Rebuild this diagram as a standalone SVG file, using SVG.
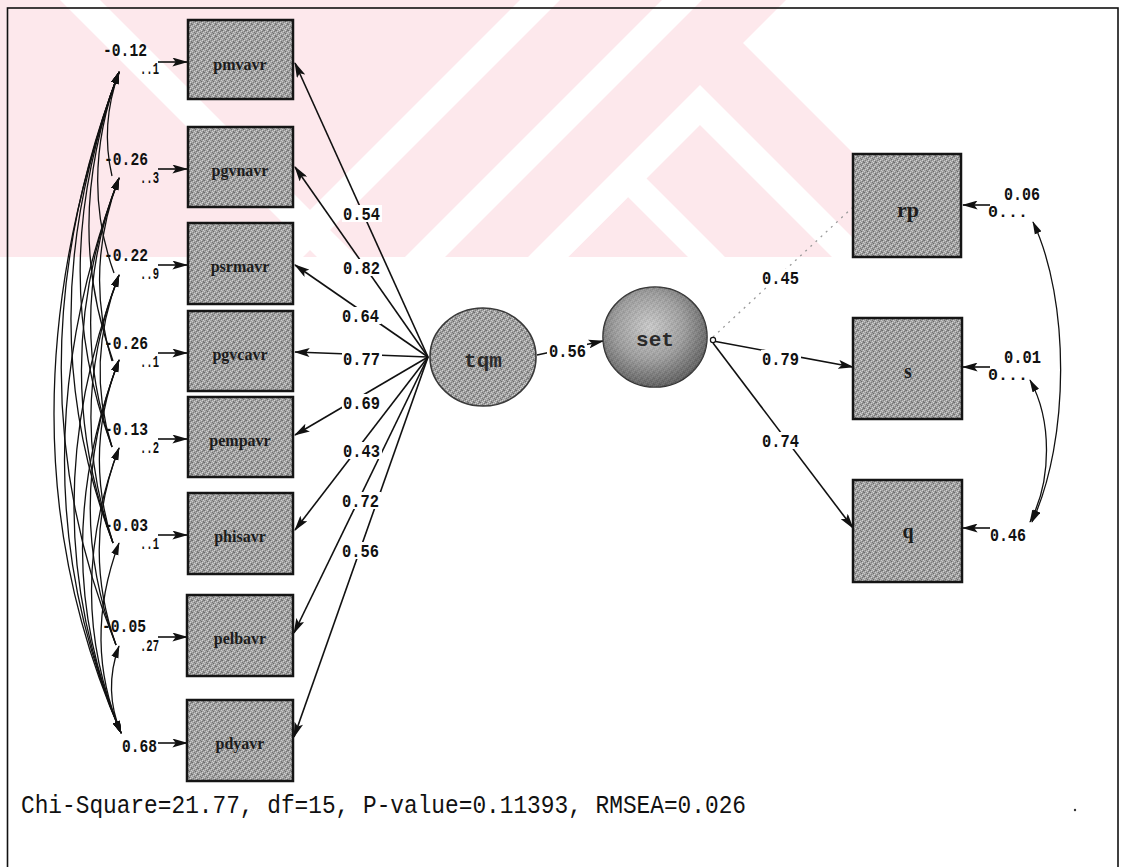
<svg xmlns="http://www.w3.org/2000/svg" width="1121" height="867" viewBox="0 0 1121 867">
<defs>
<pattern id="dith" width="6" height="6" patternUnits="userSpaceOnUse">
<rect width="6" height="6" fill="#a2a2a2"/>
<rect x="0" y="0" width="1" height="1" fill="#6e6e6e"/>
<rect x="3" y="0" width="1" height="1" fill="#d4d4d4"/>
<rect x="5" y="0" width="1" height="1" fill="#7c7c7c"/>
<rect x="1" y="1" width="1" height="1" fill="#d0d0d0"/>
<rect x="4" y="1" width="1" height="1" fill="#747474"/>
<rect x="2" y="2" width="1" height="1" fill="#767676"/>
<rect x="5" y="2" width="1" height="1" fill="#cccccc"/>
<rect x="0" y="3" width="1" height="1" fill="#c8c8c8"/>
<rect x="3" y="3" width="1" height="1" fill="#6a6a6a"/>
<rect x="1" y="4" width="1" height="1" fill="#7e7e7e"/>
<rect x="4" y="4" width="1" height="1" fill="#d6d6d6"/>
<rect x="2" y="5" width="1" height="1" fill="#cfcfcf"/>
<rect x="5" y="5" width="1" height="1" fill="#727272"/>
</pattern>
<radialGradient id="setg" cx="0.45" cy="0.4" r="0.6">
<stop offset="0" stop-color="#d4d4d4"/>
<stop offset="0.55" stop-color="#9c9c9c"/>
<stop offset="1" stop-color="#505050"/>
</radialGradient>
<marker id="ah" viewBox="0 0 14 8" refX="13" refY="4" markerWidth="16" markerHeight="9" markerUnits="userSpaceOnUse" orient="auto-start-reverse">
<path d="M0,0 L14,4 L0,8 L3,4 z" fill="#111"/>
</marker>
<marker id="ahs" viewBox="0 0 14 8" refX="13" refY="4" markerWidth="13" markerHeight="8" markerUnits="userSpaceOnUse" orient="auto-start-reverse">
<path d="M0,0 L14,4 L0,8 z" fill="#111"/>
</marker>
<style>
.box{fill:url(#dith);stroke:#151515;stroke-width:2.5}
.nl{font-family:"Liberation Serif",serif;font-weight:bold;font-size:16px;fill:#1c1c1c;text-anchor:middle}
.lab{font-family:"Liberation Mono",monospace;font-weight:bold;font-size:19px;fill:#111}
.sm{font-family:"Liberation Mono",monospace;font-weight:bold;font-size:16px;fill:#111}
.bg{fill:#fff}
.ln{fill:none;stroke:#111;stroke-width:1.6}
.cv{fill:none;stroke:#111;stroke-width:1.3}
.wm{fill:#fde8ec}
.wmw{fill:#fff}
</style>
</defs>
<rect width="1121" height="867" fill="#fff"/>
<g id="watermark">
<polygon class="wm" points="0,0 786,0 743,43 957,257 0,257"/>
<polygon class="wmw" points="700,85 872,257 832,257 700,125 568,257 528,257"/>
<polygon class="wmw" points="628,160 725,257 688,257 628,197 568,257 531,257"/>
<polygon class="wmw" points="520,0 560,0 303,257 263,257"/>
<polygon class="wmw" points="662,0 702,0 445,257 405,257"/>
<polygon class="wmw" points="60,0 100,0 357,257 317,257"/>
</g>
<rect x="7.5" y="8" width="1110.5" height="866" fill="none" stroke="#111" stroke-width="1.6"/>

<g id="connectors">
<line class="ln" x1="428" y1="357" x2="295" y2="63" marker-end="url(#ah)"/>
<line class="ln" x1="428" y1="357" x2="295" y2="167" marker-end="url(#ah)"/>
<line class="ln" x1="428" y1="357" x2="295" y2="265" marker-end="url(#ah)"/>
<line class="ln" x1="428" y1="357" x2="295" y2="352" marker-end="url(#ah)"/>
<line class="ln" x1="428" y1="357" x2="295" y2="435" marker-end="url(#ah)"/>
<line class="ln" x1="428" y1="357" x2="295" y2="530" marker-end="url(#ah)"/>
<line class="ln" x1="428" y1="357" x2="294" y2="633" marker-end="url(#ah)"/>
<line class="ln" x1="428" y1="357" x2="294" y2="737" marker-end="url(#ah)"/>
<line class="ln" x1="537" y1="355" x2="603" y2="341" marker-end="url(#ah)"/>
<line x1="713" y1="337" x2="852" y2="208" stroke="#9a9a9a" stroke-width="1.3" stroke-dasharray="2,5"/>
<line class="ln" x1="713" y1="341" x2="853" y2="367" marker-end="url(#ah)"/>
<line class="ln" x1="713" y1="343" x2="853" y2="528" marker-end="url(#ah)"/>
<circle cx="713" cy="340" r="2.6" fill="#fff" stroke="#111" stroke-width="1.2"/>
<line class="ln" x1="158" y1="62" x2="187" y2="62" marker-end="url(#ah)"/>
<line class="ln" x1="158" y1="169" x2="187" y2="169" marker-end="url(#ah)"/>
<line class="ln" x1="158" y1="265" x2="187" y2="265" marker-end="url(#ah)"/>
<line class="ln" x1="158" y1="353" x2="187" y2="353" marker-end="url(#ah)"/>
<line class="ln" x1="158" y1="439" x2="187" y2="439" marker-end="url(#ah)"/>
<line class="ln" x1="158" y1="535" x2="187" y2="535" marker-end="url(#ah)"/>
<line class="ln" x1="158" y1="637" x2="187" y2="637" marker-end="url(#ah)"/>
<line class="ln" x1="158" y1="743" x2="187" y2="743" marker-end="url(#ah)"/>
<line class="ln" x1="990" y1="205" x2="963" y2="205" marker-end="url(#ah)"/>
<line class="ln" x1="990" y1="367" x2="963" y2="367" marker-end="url(#ah)"/>
<line class="ln" x1="990" y1="528" x2="963" y2="528" marker-end="url(#ah)"/>
<path class="cv" d="M1033,222 C1070,300 1070,440 1032,522" marker-start="url(#ahs)" marker-end="url(#ahs)"/>
<path class="cv" d="M1030,380 C1052,420 1052,480 1030,522" marker-start="url(#ahs)" marker-end="url(#ahs)"/>
<g marker-start="url(#ahs)">
<path class="cv" d="M119,72 Q100,125 112,176"/>
<path class="cv" d="M119,72 Q79,176 114,273"/>
<path class="cv" d="M119,72 Q62,220 113,361"/>
<path class="cv" d="M119,72 Q45,265 112,447"/>
<path class="cv" d="M119,72 Q26,315 113,543"/>
<path class="cv" d="M119,72 Q5,370 116,645"/>
<path class="cv" d="M119,72 Q-12,430 121,733" marker-end="url(#ahs)"/>
<path class="cv" d="M119,178 Q84,270 112,361"/>
<path class="cv" d="M119,178 Q66,314 112,447"/>
<path class="cv" d="M119,178 Q47,364 113,543"/>
<path class="cv" d="M119,178 Q9,470 121,733" marker-end="url(#ahs)"/>
<path class="cv" d="M119,275 Q85,362 112,447"/>
<path class="cv" d="M119,275 Q66,410 113,543"/>
<path class="cv" d="M119,275 Q28,514 121,733" marker-end="url(#ahs)"/>
<path class="cv" d="M119,360 Q83,452 113,543"/>
<path class="cv" d="M119,360 Q63,505 116,645"/>
<path class="cv" d="M119,360 Q45,556 121,733" marker-end="url(#ahs)"/>
<path class="cv" d="M119,448 Q81,546 116,645"/>
<path class="cv" d="M119,448 Q63,596 121,733" marker-end="url(#ahs)"/>
<path class="cv" d="M119,543 Q82,642 121,733" marker-end="url(#ahs)"/>
<path class="cv" d="M119,646 Q103,690 121,733" marker-end="url(#ahs)"/>
</g>
</g>

<g id="labels">
<rect class="bg" x="342" y="205" width="40" height="17"/><text class="lab" x="343" y="220" textLength="37" lengthAdjust="spacingAndGlyphs">0.54</text>
<rect class="bg" x="342" y="259" width="40" height="17"/><text class="lab" x="343" y="274" textLength="37" lengthAdjust="spacingAndGlyphs">0.82</text>
<rect class="bg" x="341" y="307" width="40" height="17"/><text class="lab" x="342" y="322" textLength="37" lengthAdjust="spacingAndGlyphs">0.64</text>
<rect class="bg" x="342" y="350" width="40" height="17"/><text class="lab" x="343" y="365" textLength="37" lengthAdjust="spacingAndGlyphs">0.77</text>
<rect class="bg" x="342" y="394" width="40" height="17"/><text class="lab" x="343" y="409" textLength="37" lengthAdjust="spacingAndGlyphs">0.69</text>
<rect class="bg" x="342" y="442" width="40" height="17"/><text class="lab" x="343" y="457" textLength="37" lengthAdjust="spacingAndGlyphs">0.43</text>
<rect class="bg" x="341" y="492" width="40" height="17"/><text class="lab" x="342" y="507" textLength="37" lengthAdjust="spacingAndGlyphs">0.72</text>
<rect class="bg" x="341" y="542" width="40" height="17"/><text class="lab" x="342" y="557" textLength="37" lengthAdjust="spacingAndGlyphs">0.56</text>
<rect class="bg" x="547" y="342" width="40" height="17"/><text class="lab" x="549" y="357" textLength="37" lengthAdjust="spacingAndGlyphs">0.56</text>
<rect class="bg" x="761" y="269" width="40" height="17"/><text class="lab" x="762" y="284" textLength="37" lengthAdjust="spacingAndGlyphs">0.45</text>
<rect class="bg" x="761" y="350" width="40" height="17"/><text class="lab" x="762" y="365" textLength="37" lengthAdjust="spacingAndGlyphs">0.79</text>
<rect class="bg" x="761" y="432" width="40" height="17"/><text class="lab" x="762" y="447" textLength="37" lengthAdjust="spacingAndGlyphs">0.74</text>
<text class="lab" x="103" y="56" textLength="44" lengthAdjust="spacingAndGlyphs">-0.12</text>
<text class="sm" x="140" y="74" textLength="19" lengthAdjust="spacingAndGlyphs">..1</text>
<text class="lab" x="104" y="165" textLength="44" lengthAdjust="spacingAndGlyphs">-0.26</text>
<text class="sm" x="140" y="183" textLength="19" lengthAdjust="spacingAndGlyphs">..3</text>
<text class="lab" x="104" y="261" textLength="44" lengthAdjust="spacingAndGlyphs">-0.22</text>
<text class="sm" x="140" y="279" textLength="19" lengthAdjust="spacingAndGlyphs">..9</text>
<text class="lab" x="104" y="349" textLength="44" lengthAdjust="spacingAndGlyphs">-0.26</text>
<text class="sm" x="140" y="367" textLength="19" lengthAdjust="spacingAndGlyphs">..1</text>
<text class="lab" x="104" y="435" textLength="44" lengthAdjust="spacingAndGlyphs">-0.13</text>
<text class="sm" x="140" y="453" textLength="19" lengthAdjust="spacingAndGlyphs">..2</text>
<text class="lab" x="104" y="531" textLength="44" lengthAdjust="spacingAndGlyphs">-0.03</text>
<text class="sm" x="140" y="549" textLength="19" lengthAdjust="spacingAndGlyphs">..1</text>
<text class="lab" x="102" y="632" textLength="44" lengthAdjust="spacingAndGlyphs">-0.05</text>
<text class="sm" x="140" y="651" textLength="19" lengthAdjust="spacingAndGlyphs">.27</text>
<text class="lab" x="122" y="752" textLength="35" lengthAdjust="spacingAndGlyphs">0.68</text>
<text class="sm" x="988" y="217" textLength="40" lengthAdjust="spacingAndGlyphs">0...</text>
<text class="lab" x="1004" y="200" textLength="36" lengthAdjust="spacingAndGlyphs">0.06</text>
<text class="sm" x="988" y="380" textLength="40" lengthAdjust="spacingAndGlyphs">0...</text>
<text class="lab" x="1004" y="363" textLength="37" lengthAdjust="spacingAndGlyphs">0.01</text>
<text class="lab" x="990" y="541" textLength="36" lengthAdjust="spacingAndGlyphs">0.46</text>
</g>

<g id="node-pmvavr"><rect class="box" x="188" y="20" width="105" height="79"/><text class="nl" x="240" y="70">pmvavr</text></g>
<g id="node-pgvnavr"><rect class="box" x="188" y="127" width="105" height="80"/><text class="nl" x="240" y="176">pgvnavr</text></g>
<g id="node-psrmavr"><rect class="box" x="188" y="223" width="105" height="81"/><text class="nl" x="240" y="272">psrmavr</text></g>
<g id="node-pgvcavr"><rect class="box" x="188" y="311" width="105" height="80"/><text class="nl" x="240" y="360">pgvcavr</text></g>
<g id="node-pempavr"><rect class="box" x="188" y="397" width="105" height="80"/><text class="nl" x="240" y="446">pempavr</text></g>
<g id="node-phisavr"><rect class="box" x="188" y="493" width="105" height="81"/><text class="nl" x="240" y="542">phisavr</text></g>
<g id="node-pelbavr"><rect class="box" x="187" y="595" width="106" height="81"/><text class="nl" x="240" y="644">pelbavr</text></g>
<g id="node-pdyavr"><rect class="box" x="187" y="700" width="106" height="81"/><text class="nl" x="240" y="749">pdyavr</text></g>

<g id="node-tqm"><ellipse cx="483" cy="357" rx="53" ry="49" fill="url(#dith)" stroke="#3a3a3a" stroke-width="1.6"/><text x="483" y="367" font-family="Liberation Mono, monospace" font-weight="bold" font-size="21" fill="#2a2a2a" text-anchor="middle">tqm</text></g>
<g id="node-set"><ellipse cx="655" cy="337" rx="52" ry="50" fill="url(#setg)" stroke="#333" stroke-width="1.6"/><ellipse cx="655" cy="337" rx="52" ry="50" fill="url(#dith)" opacity="0.25"/><text x="655" y="346" font-family="Liberation Mono, monospace" font-weight="bold" font-size="21" fill="#2a2a2a" text-anchor="middle">set</text></g>

<g id="node-rp"><rect class="box" x="853" y="154" width="108" height="103"/><text x="908" y="217" font-family="Liberation Serif, serif" font-weight="bold" font-size="22" fill="#1c1c1c" text-anchor="middle">rp</text></g>
<g id="node-s"><rect class="box" x="853" y="318" width="109" height="101"/><text x="908" y="378" font-family="Liberation Serif, serif" font-weight="bold" font-size="20" fill="#1c1c1c" text-anchor="middle">s</text></g>
<g id="node-q"><rect class="box" x="853" y="480" width="109" height="102"/><text x="908" y="538" font-family="Liberation Serif, serif" font-weight="bold" font-size="20" fill="#1c1c1c" text-anchor="middle">q</text></g>

<text x="21" y="813" font-family="Liberation Mono, monospace" font-size="25" fill="#111" textLength="725" lengthAdjust="spacingAndGlyphs">Chi-Square=21.77, df=15, P-value=0.11393, RMSEA=0.026</text>
<circle cx="1075" cy="810" r="1.2" fill="#333"/>
</svg>
